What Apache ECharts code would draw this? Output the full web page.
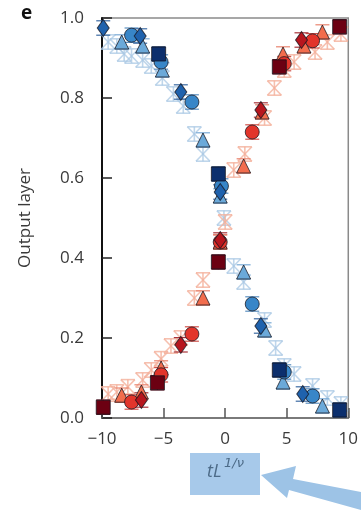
<!DOCTYPE html>
<html><head><meta charset="utf-8">
<script src="https://cdn.jsdelivr.net/npm/echarts@6/dist/echarts.min.js"></script>
<style>html,body{margin:0;padding:0;background:#fff}#c{width:361px;height:518px}</style>
</head><body><div id="c"></div>
<script>
// ---- data ----
const xTicks = [-10, -5, 0, 5, 10];
const yTicks = [0, 0.2, 0.4, 0.6, 0.8, 1.0];

const blueCircleX = [-7.6, -5.2, -2.7, -0.3, 2.2, 4.8, 7.1];
const blueCircleY = [0.957, 0.89, 0.79, 0.58, 0.285, 0.115, 0.055];
const blueDiamondX = [-9.9, -6.9, -3.6, -0.4, 2.9, 6.3];
const blueDiamondY = [0.975, 0.955, 0.815, 0.565, 0.23, 0.06];
const blueTriangleX = [-8.4, -6.7, -5.1, -1.8, -0.4, 1.5, 3.2, 4.7, 7.9];
const blueTriangleY = [0.94, 0.93, 0.87, 0.695, 0.555, 0.365, 0.22, 0.09, 0.03];
const blueSquareX = [-5.4, -0.55, 4.4, 9.3];
const blueSquareY = [0.91, 0.61, 0.12, 0.02];
const blueFaintX = [-9.5, -8.8, -8.2, -7.6, -6.7, -6.0, -5.1, -4.2, -3.4, -2.5, -1.8, -0.1, 0.7, 1.5, 3.2, 4.1, 4.8, 5.6, 7.1, 8.3, 9.4];
const blueFaintY = [0.94, 0.93, 0.91, 0.905, 0.895, 0.88, 0.85, 0.81, 0.78, 0.71, 0.66, 0.50, 0.38, 0.34, 0.245, 0.175, 0.13, 0.11, 0.08, 0.05, 0.035];

const redCircleX = [-7.6, -5.2, -2.7, -0.4, 2.2, 4.8, 7.1];
const redCircleY = [0.04, 0.108, 0.21, 0.44, 0.715, 0.886, 0.943];
const redDiamondX = [-6.8, -3.6, -0.4, 2.9, 6.2];
const redDiamondY = [0.045, 0.183, 0.445, 0.77, 0.945];
const redTriangleX = [-8.4, -6.8, -5.2, -1.8, -0.4, 1.5, 3.0, 4.7, 6.4, 7.9];
const redTriangleY = [0.057, 0.065, 0.125, 0.30, 0.44, 0.63, 0.765, 0.91, 0.93, 0.965];
const redSquareX = [-9.9, -5.5, -0.55, 4.4, 9.3];
const redSquareY = [0.027, 0.088, 0.39, 0.878, 0.978];
const redFaintX = [-9.5, -8.8, -7.9, -6.7, -6.0, -5.2, -4.4, -3.6, -2.5, -1.8, 0.0, 0.7, 1.6, 3.2, 4.0, 4.8, 5.6, 7.3, 8.3, 9.4];
const redFaintY = [0.06, 0.065, 0.078, 0.095, 0.12, 0.148, 0.18, 0.20, 0.30, 0.345, 0.49, 0.62, 0.66, 0.75, 0.825, 0.87, 0.89, 0.915, 0.94, 0.96];

const ERR = 0.018;

function pts(xs, ys) { return xs.map((x, i) => [x, ys[i]]); }

function faintSeries(xs, ys, color) {
  return {
    type: 'custom', z: 1, data: pts(xs, ys),
    renderItem(params, api) {
      const p = api.coord([api.value(0), api.value(1)]);
      const top = api.coord([api.value(0), api.value(1) + ERR])[1];
      const bot = api.coord([api.value(0), api.value(1) - ERR])[1];
      const w = 7;
      const st = { stroke: color, lineWidth: 1.6 };
      return { type: 'group', children: [
        { type: 'line', shape: { x1: p[0] - w, y1: top, x2: p[0] + w, y2: top }, style: st },
        { type: 'line', shape: { x1: p[0] - w, y1: bot, x2: p[0] + w, y2: bot }, style: st },
        { type: 'line', shape: { x1: p[0] - w, y1: top, x2: p[0] + w, y2: bot }, style: st },
        { type: 'line', shape: { x1: p[0] + w, y1: top, x2: p[0] - w, y2: bot }, style: st },
        { type: 'line', shape: { x1: p[0], y1: top, x2: p[0], y2: bot }, style: st }
      ]};
    }
  };
}

function errSeries(xs, ys, color) {
  return {
    type: 'custom', z: 2, data: pts(xs, ys),
    renderItem(params, api) {
      const p = api.coord([api.value(0), api.value(1)]);
      const top = api.coord([api.value(0), api.value(1) + ERR])[1];
      const bot = api.coord([api.value(0), api.value(1) - ERR])[1];
      const w = 7;
      const st = { stroke: color, lineWidth: 1.2 };
      return { type: 'group', children: [
        { type: 'line', shape: { x1: p[0] - w, y1: top, x2: p[0] + w, y2: top }, style: st },
        { type: 'line', shape: { x1: p[0] - w, y1: bot, x2: p[0] + w, y2: bot }, style: st },
        { type: 'line', shape: { x1: p[0], y1: top, x2: p[0], y2: bot }, style: st }
      ]};
    }
  };
}

function markSeries(xs, ys, symbol, size, color) {
  return {
    type: 'scatter', z: 3, data: pts(xs, ys), symbol: symbol, symbolSize: size,
    itemStyle: { color: color, borderColor: 'rgba(20,20,30,0.75)', borderWidth: 1, opacity: 1 }
  };
}

const chart = echarts.init(document.getElementById('c'), null, { renderer: 'canvas' });
const labelStyle = { color: '#3a3a3a', fontSize: 17, fontFamily: 'Open Sans' };

const series = [
  faintSeries(blueFaintX, blueFaintY, 'rgba(170,200,228,0.75)'),
  faintSeries(redFaintX, redFaintY, 'rgba(244,176,155,0.8)'),
  errSeries(blueCircleX, blueCircleY, '#5a8fc0'),
  errSeries(blueDiamondX, blueDiamondY, '#3b6aa3'),
  errSeries(blueTriangleX, blueTriangleY, '#7aaad6'),
  errSeries(blueSquareX, blueSquareY, '#2a4a7a'),
  errSeries(redCircleX, redCircleY, '#d0524a'),
  errSeries(redDiamondX, redDiamondY, '#a8343a'),
  errSeries(redTriangleX, redTriangleY, '#e98570'),
  errSeries(redSquareX, redSquareY, '#6e2030'),
  markSeries(blueTriangleX, blueTriangleY, 'triangle', 14, '#6ba9d9'),
  markSeries(redTriangleX, redTriangleY, 'triangle', 14, '#f26d4d'),
  markSeries(blueCircleX, blueCircleY, 'circle', 14, '#3886c8'),
  markSeries(redCircleX, redCircleY, 'circle', 14, '#e2352b'),
  markSeries(blueDiamondX, blueDiamondY, 'diamond', [12, 17], '#1f62ad'),
  markSeries(redDiamondX, redDiamondY, 'diamond', [12, 17], '#b7161e'),
  markSeries(blueSquareX, blueSquareY, 'rect', 14, '#0c2f6d'),
  markSeries(redSquareX, redSquareY, 'rect', 14, '#6c0012')
];

chart.setOption({
  animation: false,
  backgroundColor: '#fff',
  grid: { left: 102, right: 7, top: 18, bottom: 100, show: true, borderColor: '#8a8a8a', borderWidth: 1.5 },
  xAxis: {
    type: 'value', min: -10, max: 10, interval: 5,
    axisLine: { show: true, onZero: false, lineStyle: { color: '#7a7a7a', width: 2 } },
    axisTick: { show: true, inside: true, length: 10, lineStyle: { color: '#555', width: 1.5 } },
    splitLine: { show: false },
    axisLabel: Object.assign({ margin: 13, formatter: v => xTicks.includes(v) ? String(v).replace('-', '\u2212') : '' }, labelStyle)
  },
  yAxis: {
    type: 'value', min: 0, max: 1, interval: 0.2,
    name: 'Output layer', nameLocation: 'middle', nameGap: 68,
    nameTextStyle: { color: '#3a3a3a', fontSize: 17, fontFamily: 'Open Sans' },
    axisLine: { show: true, onZero: false, lineStyle: { color: '#111', width: 2 } },
    axisTick: { show: true, inside: true, length: 10, lineStyle: { color: '#222', width: 1.5 } },
    splitLine: { show: false },
    axisLabel: Object.assign({ margin: 18, formatter: v => v.toFixed(1) }, labelStyle)
  },
  graphic: [
    { type: 'text', left: 21, top: 4, style: { text: 'e', font: 'bold 19px "Open Sans"', fill: '#111' } },
    { type: 'rect', shape: { x: 190, y: 453, width: 70, height: 42 }, style: { fill: '#a7c9ea' } },
    { type: 'text', x: 207, y: 463, style: { text: 'tL', font: 'italic 18px "Open Sans"', fill: '#4d6b88' } },
    { type: 'text', x: 224, y: 457, style: { text: '1/\u03bd', font: 'italic 13px "DejaVu Sans"', fill: '#4d6b88' } },
    { type: 'polygon', shape: { points: [[261, 475], [296, 466], [293, 479], [361, 492], [361, 510], [289, 490], [287, 498]] }, style: { fill: '#9dc3e6' } }
  ],
  series: series
});
</script></body></html>
